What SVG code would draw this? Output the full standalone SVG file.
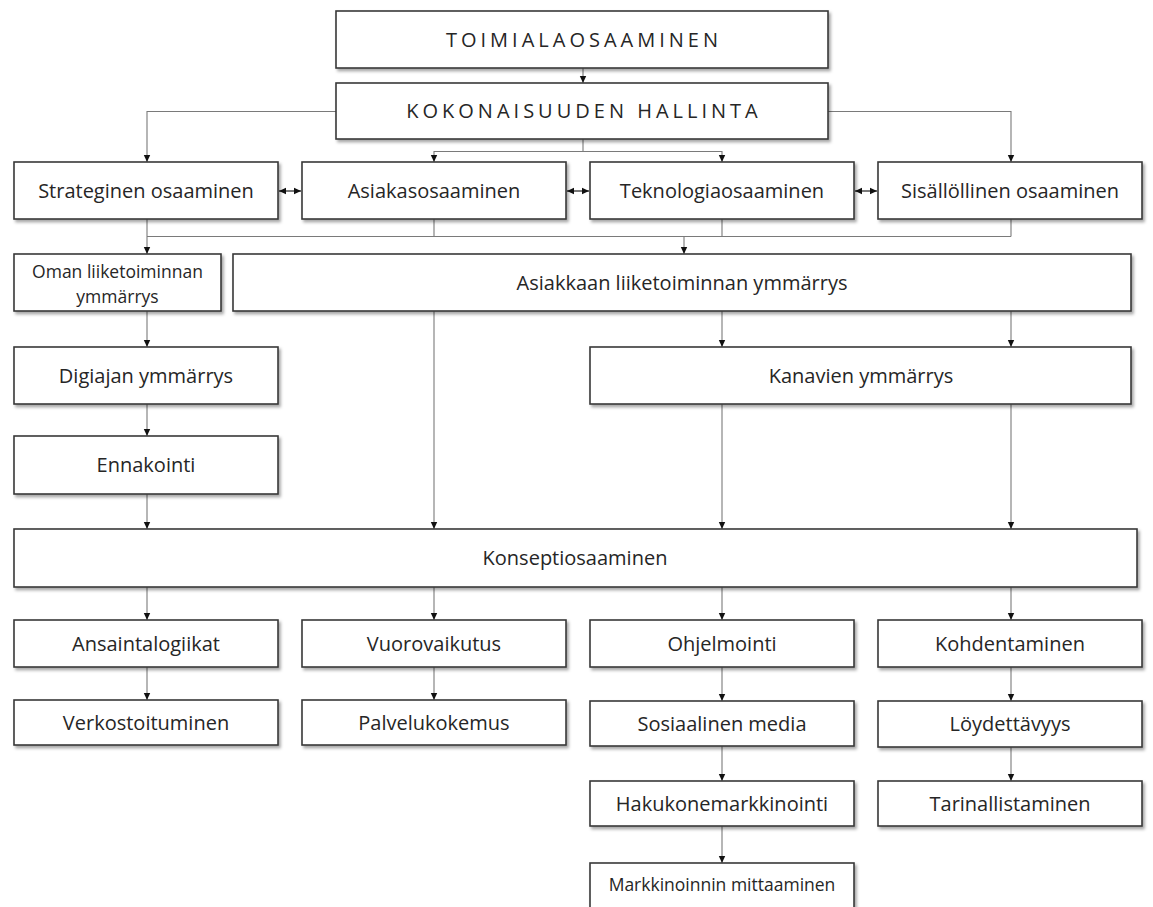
<svg xmlns="http://www.w3.org/2000/svg" width="1153" height="907" viewBox="0 0 1153 907">
<style>
.box{fill:#ffffff;stroke:#3a3a3a;stroke-width:1.6;filter:url(#sh)}
.t{font-family:"Open Sans","Noto Sans","Liberation Sans",sans-serif;font-size:20px;fill:#262626;text-anchor:middle}
.s{font-size:17.5px}
.cap{letter-spacing:4px}
.c{fill:none;stroke:#7a7a7a;stroke-width:1.1}
.d{fill:none;stroke:#222;stroke-width:1.2}
</style>
<defs>
<filter id="sh" x="-5%" y="-20%" width="110%" height="150%">
<feDropShadow dx="2" dy="2.5" stdDeviation="1.6" flood-color="#000" flood-opacity="0.35"/>
</filter>
<marker id="a" markerUnits="userSpaceOnUse" markerWidth="8" markerHeight="8" refX="7" refY="4" orient="auto">
<path d="M0,0.8 L7,4 L0,7.2 z" fill="#111"/>
</marker>
<marker id="b" markerUnits="userSpaceOnUse" markerWidth="8" markerHeight="8" refX="0" refY="4" orient="auto">
<path d="M7,0.8 L0,4 L7,7.2 z" fill="#111"/>
</marker>
</defs>
<rect width="1153" height="907" fill="#ffffff"/>
<g id="connectors">
<path class="c" d="M583,68 V83" marker-end="url(#a)"/>
<path class="c" d="M336,111.5 H147 V162" marker-end="url(#a)"/>
<path class="c" d="M828,111.5 H1011 V162" marker-end="url(#a)"/>
<path class="c" d="M583,139 V151.5"/>
<path class="c" d="M583,151.5 H434 V162" marker-end="url(#a)"/>
<path class="c" d="M583,151.5 H722 V162" marker-end="url(#a)"/>
<path class="d" d="M279,191 H301" marker-start="url(#b)" marker-end="url(#a)"/>
<path class="d" d="M567,191 H589" marker-start="url(#b)" marker-end="url(#a)"/>
<path class="d" d="M855,191 H877" marker-start="url(#b)" marker-end="url(#a)"/>
<path class="c" d="M147,219 V254" marker-end="url(#a)"/>
<path class="c" d="M434,219 V236.5 M722,219 V236.5 M1011,219 V236.5 M147,236.5 H1011"/>
<path class="c" d="M684,236.5 V254" marker-end="url(#a)"/>
<path class="c" d="M147,311 V347" marker-end="url(#a)"/>
<path class="c" d="M147,404 V436" marker-end="url(#a)"/>
<path class="c" d="M147,494 V529" marker-end="url(#a)"/>
<path class="c" d="M434,311 V529" marker-end="url(#a)"/>
<path class="c" d="M722,311 V347" marker-end="url(#a)"/>
<path class="c" d="M1011,311 V347" marker-end="url(#a)"/>
<path class="c" d="M722,404 V529" marker-end="url(#a)"/>
<path class="c" d="M1011,404 V529" marker-end="url(#a)"/>
<path class="c" d="M147,587 V620" marker-end="url(#a)"/>
<path class="c" d="M434,587 V620" marker-end="url(#a)"/>
<path class="c" d="M722,587 V620" marker-end="url(#a)"/>
<path class="c" d="M1011,587 V620" marker-end="url(#a)"/>
<path class="c" d="M147,667 V700" marker-end="url(#a)"/>
<path class="c" d="M434,667 V700" marker-end="url(#a)"/>
<path class="c" d="M722,667 V701" marker-end="url(#a)"/>
<path class="c" d="M722,746 V781" marker-end="url(#a)"/>
<path class="c" d="M722,826 V863" marker-end="url(#a)"/>
<path class="c" d="M1011,667 V701" marker-end="url(#a)"/>
<path class="c" d="M1011,747 V781" marker-end="url(#a)"/>
</g>
<g id="toimiala"><rect class="box" x="336" y="11" width="492" height="57"/><text class="t cap" x="584" y="47">TOIMIALAOSAAMINEN</text></g>
<g id="kokonaisuus"><rect class="box" x="336" y="83" width="492" height="56"/><text class="t cap" x="584" y="118">KOKONAISUUDEN HALLINTA</text></g>
<g id="strateginen"><rect class="box" x="14" y="162" width="264" height="57"/><text class="t" x="146" y="198">Strateginen osaaminen</text></g>
<g id="asiakas"><rect class="box" x="302" y="162" width="264" height="57"/><text class="t" x="434" y="198">Asiakasosaaminen</text></g>
<g id="teknologia"><rect class="box" x="590" y="162" width="264" height="57"/><text class="t" x="722" y="198">Teknologiaosaaminen</text></g>
<g id="sisallollinen"><rect class="box" x="878" y="162" width="264" height="57"/><text class="t" x="1010" y="198">Sisällöllinen osaaminen</text></g>
<g id="oman"><rect class="box" x="14" y="254" width="207" height="57"/><text class="t s" x="117.5" y="278">Oman liiketoiminnan</text><text class="t s" x="117.5" y="303">ymmärrys</text></g>
<g id="asiakkaan"><rect class="box" x="233" y="254" width="898" height="57"/><text class="t" x="682" y="290">Asiakkaan liiketoiminnan ymmärrys</text></g>
<g id="digiajan"><rect class="box" x="14" y="347" width="264" height="57"/><text class="t" x="146" y="383">Digiajan ymmärrys</text></g>
<g id="kanavien"><rect class="box" x="590" y="347" width="541" height="57"/><text class="t" x="861" y="383">Kanavien ymmärrys</text></g>
<g id="ennakointi"><rect class="box" x="14" y="436" width="264" height="58"/><text class="t" x="146" y="472">Ennakointi</text></g>
<g id="konseptio"><rect class="box" x="14" y="529" width="1123" height="58"/><text class="t" x="575" y="565">Konseptiosaaminen</text></g>
<g id="ansainta"><rect class="box" x="14" y="620" width="264" height="47"/><text class="t" x="146" y="650.5">Ansaintalogiikat</text></g>
<g id="vuorovaikutus"><rect class="box" x="302" y="620" width="264" height="47"/><text class="t" x="434" y="650.5">Vuorovaikutus</text></g>
<g id="ohjelmointi"><rect class="box" x="590" y="620" width="264" height="47"/><text class="t" x="722" y="650.5">Ohjelmointi</text></g>
<g id="kohdentaminen"><rect class="box" x="878" y="620" width="264" height="47"/><text class="t" x="1010" y="650.5">Kohdentaminen</text></g>
<g id="verkostoituminen"><rect class="box" x="14" y="700" width="264" height="45"/><text class="t" x="146" y="729.5">Verkostoituminen</text></g>
<g id="palvelukokemus"><rect class="box" x="302" y="700" width="264" height="45"/><text class="t" x="434" y="729.5">Palvelukokemus</text></g>
<g id="sosiaalinen"><rect class="box" x="590" y="701" width="264" height="45"/><text class="t" x="722" y="730.5">Sosiaalinen media</text></g>
<g id="loydettavyys"><rect class="box" x="878" y="701" width="264" height="46"/><text class="t" x="1010" y="731">Löydettävyys</text></g>
<g id="hakukone"><rect class="box" x="590" y="781" width="264" height="45"/><text class="t" x="722" y="810.5">Hakukonemarkkinointi</text></g>
<g id="tarinallistaminen"><rect class="box" x="878" y="781" width="264" height="45"/><text class="t" x="1010" y="810.5">Tarinallistaminen</text></g>
<g id="markkinoinnin"><rect class="box" x="590" y="863" width="264" height="60"/><text class="t s" x="722" y="891">Markkinoinnin mittaaminen</text></g>
</svg>
